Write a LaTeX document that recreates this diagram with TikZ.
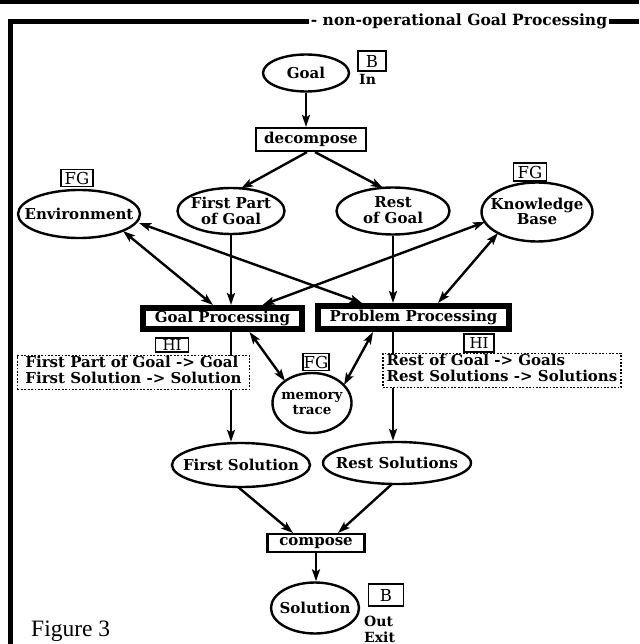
\documentclass[tikz,border=0pt]{standalone}
\usepackage{fontspec}
\setmainfont{DejaVu Serif}
\newfontfamily\figfont{Liberation Serif}
\usetikzlibrary{shapes.geometric,arrows.meta,calc}
% zero-size, vertically centred label so that an ellipse keeps its given size
\newcommand\ctrtext[1]{\makebox[0pt]{\smash{\raisebox{-0.36em}{\begin{tabular}{@{}c@{}}#1\end{tabular}}}}}
\begin{document}
\begin{tikzpicture}[x=1pt,y=-1pt,
  >={Stealth[length=12pt,width=8pt,inset=2.5pt]},
  lbl/.style={font=\bfseries\fontsize{15}{15.5}\selectfont},
  ell/.style={lbl,draw,ellipse,line width=2.4pt,inner sep=0pt},
  act/.style={lbl,draw,rectangle,line width=2.2pt,inner sep=0pt},
  proc/.style={lbl,draw,rectangle,line width=6pt,inner sep=0pt,line join=miter},
  tag/.style={draw,fill=white,rectangle,line width=1.8pt,inner sep=0pt,font=\fontsize{16.5}{16.5}\selectfont},
  note/.style={draw,fill=white,rectangle,line width=1.8pt,dash pattern=on 1.8pt off 1.6pt,inner sep=0pt,
    font=\bfseries\fontsize{15}{16}\selectfont},
  small/.style={font=\bfseries\fontsize{14}{14}\selectfont,inner sep=0pt,anchor=base west},
  conn/.style={line width=2.4pt,->},
  both/.style={line width=2.4pt,<->}]
\useasboundingbox (0,0) rectangle (639,644);

% frame
\fill (0,0) rectangle (639,4.5);
\coordinate (fbl) at (10,644);
\coordinate (ftl) at (10,22);
\coordinate (ftr) at (639,22);
\node[font=\bfseries\fontsize{15.5}{16}\selectfont,inner xsep=2pt,inner ysep=0pt,anchor=base]
  (title) at (459,26) {- non-operational Goal Processing};
\draw[line width=5pt,line join=miter] (fbl) -- (ftl) -- (ftl -| title.west);
\draw[line width=5pt] (ftr -| title.east) -- (ftr);

% top part
\node[ell,minimum width=86pt,minimum height=37pt] (goal) at (306,73) {\ctrtext{Goal}};
\node[tag,minimum width=28pt,minimum height=20pt] (bin) at (372,61) {B};
\node[small] (inlbl) at (359,85) {In};
\node[act,minimum width=110pt,minimum height=23pt] (decomp) at (311,139.5) {decompose};
\node[ell,minimum width=107pt,minimum height=46pt] (first) at (231,211) {\ctrtext{First Part\\of Goal}};
\node[ell,minimum width=113pt,minimum height=47pt] (rest) at (393,211) {\ctrtext{Rest\\of Goal}};
\node[ell,minimum width=122pt,minimum height=48pt] (env) at (79,214) {\ctrtext{Environment}};
\node[tag,minimum width=32pt,minimum height=17pt] (envfg) at (77,178) {FG};
\node[ell,minimum width=111pt,minimum height=59pt] (kb) at (537,212) {\ctrtext{Knowledge\\Base}};
\node[tag,minimum width=33pt,minimum height=18pt] (kbfg) at (530,172) {FG};

% processing
\node[proc,minimum width=159pt,minimum height=21pt] (gp) at (222.5,318.5) {Goal Processing};
\node[proc,minimum width=191pt,minimum height=23pt] (pp) at (413.5,317.5) {Problem Processing};
\node[tag,minimum width=33pt,minimum height=14pt,font=\fontsize{15}{15}\selectfont] (hil) at (172,345) {HI};
\node[tag,minimum width=30pt,minimum height=18pt,font=\fontsize{15}{15}\selectfont] (hir) at (479,343) {HI};
\node[tag,minimum width=26pt,minimum height=17pt] (memfg) at (316,362) {FG};
\node[ell,minimum width=79pt,minimum height=60pt,font=\bfseries\fontsize{13.5}{14.5}\selectfont]
  (mem) at (312,403) {\ctrtext{memory\\trace}};

% bottom part
\node[ell,minimum width=138pt,minimum height=44pt] (fs) at (241,465) {\ctrtext{First Solution}};
\node[ell,minimum width=148pt,minimum height=42pt] (rs) at (397,463) {\ctrtext{Rest Solutions}};
\node[act,minimum width=97pt,minimum height=18pt] (comp) at (316,543) {compose};
\node[ell,minimum width=88pt,minimum height=51pt] (sol) at (315,608) {\ctrtext{Solution}};
\node[tag,minimum width=35pt,minimum height=22pt] (bout) at (386,595) {B};
\node[small] (outlbl) at (364,626) {Out};
\node[small] (exitlbl) at (364,642) {Exit};
\node[font=\figfont\fontsize{23.5}{23.5}\selectfont,inner sep=0pt,anchor=base west] (figcap) at (31,636) {Figure 3};

% connectors
\draw[conn] (goal.south) -- (goal.south |- decomp.north);
\draw[conn] ($(decomp.south)+(-4,0)$) -- ($(first)+(10,-22.5)$);
\draw[conn] ($(decomp.south)+(4,0)$) -- ($(rest)+(-10,-23)$);
\draw[conn] (first.south) -- (first.south |- gp.north);
\draw[conn] (rest.south) -- (rest.south |- pp.north);
\draw[both] ($(env)+(44,17)$) -- ($(gp)+(-9.5,-13.5)$);
\draw[both] ($(env)+(60,9)$) -- ($(pp)+(-51.5,-14.5)$);
\draw[both] ($(kb)+(-52,10)$) -- ($(gp)+(40,-13.5)$);
\draw[both] ($(kb)+(-39,21)$) -- ($(pp)+(24.5,-14.5)$);
\draw[both] ($(gp)+(27,13.5)$) -- ($(mem)+(-27,-22)$);
\draw[both] ($(pp)+(-40.5,14.5)$) -- ($(mem)+(32,-18)$);
\draw[conn] (gp.south -| first.south) -- (fs.north -| first.south);
\draw[conn] (pp.south -| rest.south) -- (rs.north -| rest.south);
\draw[conn] ($(fs)+(-3,22)$) -- ($(comp)+(-23,-10)$);
\draw[conn] ($(rs)+(-5,21)$) -- ($(comp)+(22,-10)$);
\draw[conn] (comp.south) -- (comp.south |- sol.north);

% renaming notes, laid over the vertical connectors
\node[note,minimum width=232pt,minimum height=34pt] (notel) at (133.5,372.5)
  {\begin{tabular}{@{}l@{}}First Part of Goal -> Goal\\First Solution -> Solution\end{tabular}};
\node[note,minimum width=238pt,minimum height=34pt] (noter) at (502,370.5)
  {\begin{tabular}{@{}l@{}}Rest of Goal -> Goals\\Rest Solutions -> Solutions\end{tabular}};
\end{tikzpicture}
\end{document}
